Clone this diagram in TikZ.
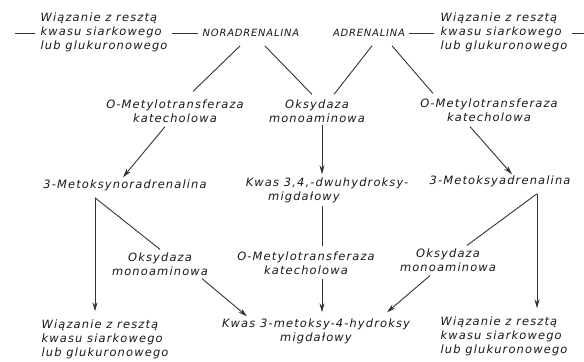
\documentclass[tikz,border=0pt]{standalone}
\usepackage{fontspec}
\setmainfont{DejaVu Sans}[ItalicFont={DejaVu Sans Oblique}]
\usetikzlibrary{arrows.meta,calc}
\begin{document}
\begin{tikzpicture}[x=1bp,y=-1bp,
  ink/.style={draw=black!80, line width=0.9bp},
  lbl/.style={font=\fontsize{11.5}{14}\selectfont\itshape\addfontfeature{LetterSpace=10}, inner sep=0pt, align=center, text=black!90},
  lbll/.style={lbl, align=left},
  caps/.style={font=\fontsize{10}{14}\selectfont\itshape\addfontfeature{LetterSpace=8}, inner sep=0pt, text=black!90},
  arr/.style={ink, -{Stealth[length=9bp,width=5bp]}}]
\useasboundingbox[fill=white] (0,0) rectangle (584,361);

% top row
\node[lbll] (wl) at (104,32) {Wiązanie z resztą\\kwasu siarkowego\\lub glukuronowego};
\node[caps] (nora) at (251,33) {NORADRENALINA};
\node[caps] (adr) at (369,33) {ADRENALINA};
\node[lbll] (wr) at (504,32) {Wiązanie z resztą\\kwasu siarkowego\\lub glukuronowego};
\coordinate (el) at (15,33);
\coordinate (er) at (584,33);

% row 1
\node[lbl] (omL) at (175,111) {O-Metylotransferaza\\katecholowa};
\node[lbl] (oks1) at (317,111) {Oksydaza\\monoaminowa};
\node[lbl] (omR) at (489,110) {O-Metylotransferaza\\katecholowa};

% row 2
\node[lbl] (mnor) at (125,185) {3-Metoksynoradrenalina};
\node[lbl] (kw34) at (327,190) {Kwas 3,4,-dwuhydroksy-\\migdałowy\hspace*{46bp}};
\node[lbl] (mad) at (500,181) {3-Metoksyadrenalina};

% row 3
\node[lbl] (oksL) at (160,264) {Oksydaza\\monoaminowa};
\node[lbl] (omM) at (306,263) {O-Metylotransferaza\\katecholowa};
\node[lbl] (oksR) at (448,260) {Oksydaza\\monoaminowa};

% row 4
\node[lbll] (wbl) at (105,339) {Wiązanie z resztą\\kwasu siarkowego\\lub glukuronowego};
\node[lbl] (kw3m) at (316,331) {Kwas 3-metoksy-4-hydroksy\\migdałowy};
\node[lbll] (wbr) at (504,336) {Wiązanie z resztą\\kwasu siarkowego\\lub glukuronowego};

% top bonds
\draw[ink] (el) -- ($(wl.west |- el)+(-5,0)$);
\draw[ink] ($(wl.east |- nora.west)+(4,0)$) -- ($(nora.west)+(-5,0)$);
\draw[ink] ($(adr.east)+(4,0)$) -- ($(wr.west |- adr.east)+(-6,0)$);
\draw[ink] ($(wr.east |- er)+(4,0)$) -- (er);

% from noradrenalina / adrenalina
\draw[ink] ($(nora.south)+(-11,9)$) -- ($(omL.north)+(18,-8)$);
\draw[ink] ($(nora.south)+(14,9)$) -- ($(oks1.north)+(-5,-5)$);
\draw[ink] ($(adr.south)+(3,9)$) -- ($(oks1.north)+(17,-5)$);
\draw[ink] ($(adr.south)+(23,9)$) -- ($(omR.north)+(-56,-5)$);

% row1 -> row2
\draw[arr] ($(omL.south)+(-10,4)$) -- ($(mnor.north)+(-2,-2)$);
\draw[arr] ($(oks1.south)+(5,2)$) -- ($(kw34.north)+(-5,-3)$);
\draw[arr] ($(omR.south)+(-19,5)$) -- ($(mad.north)+(12,-1)$);

% row2 -> row3 / row4
\coordinate (t1) at ($(mnor.south)+(-30,7)$);
\draw[arr] (t1) -- ($(wbl.north -| t1)+(0,-8)$);
\draw[ink] (t1) -- ($(oksL.north)+(0,-3)$);
\draw[ink] ($(kw34.south)+(-5,3)$) -- ($(omM.north)+(16,-5)$);
\coordinate (t2) at ($(mad.south)+(37,7)$);
\draw[arr] (t2) -- ($(wbr.north -| t2)+(0,-8)$);
\draw[ink] (t2) -- ($(oksR.north)+(19,-3)$);

% row3 -> row4
\draw[arr] ($(oksL.south)+(42,3)$) -- ($(kw3m.north)+(-69,-2)$);
\draw[arr] ($(omM.south)+(16,4)$) -- ($(kw3m.north)+(6,-6)$);
\draw[arr] ($(oksR.south)+(-18,4)$) -- ($(kw3m.north)+(71,-6)$);
\end{tikzpicture}
\end{document}
